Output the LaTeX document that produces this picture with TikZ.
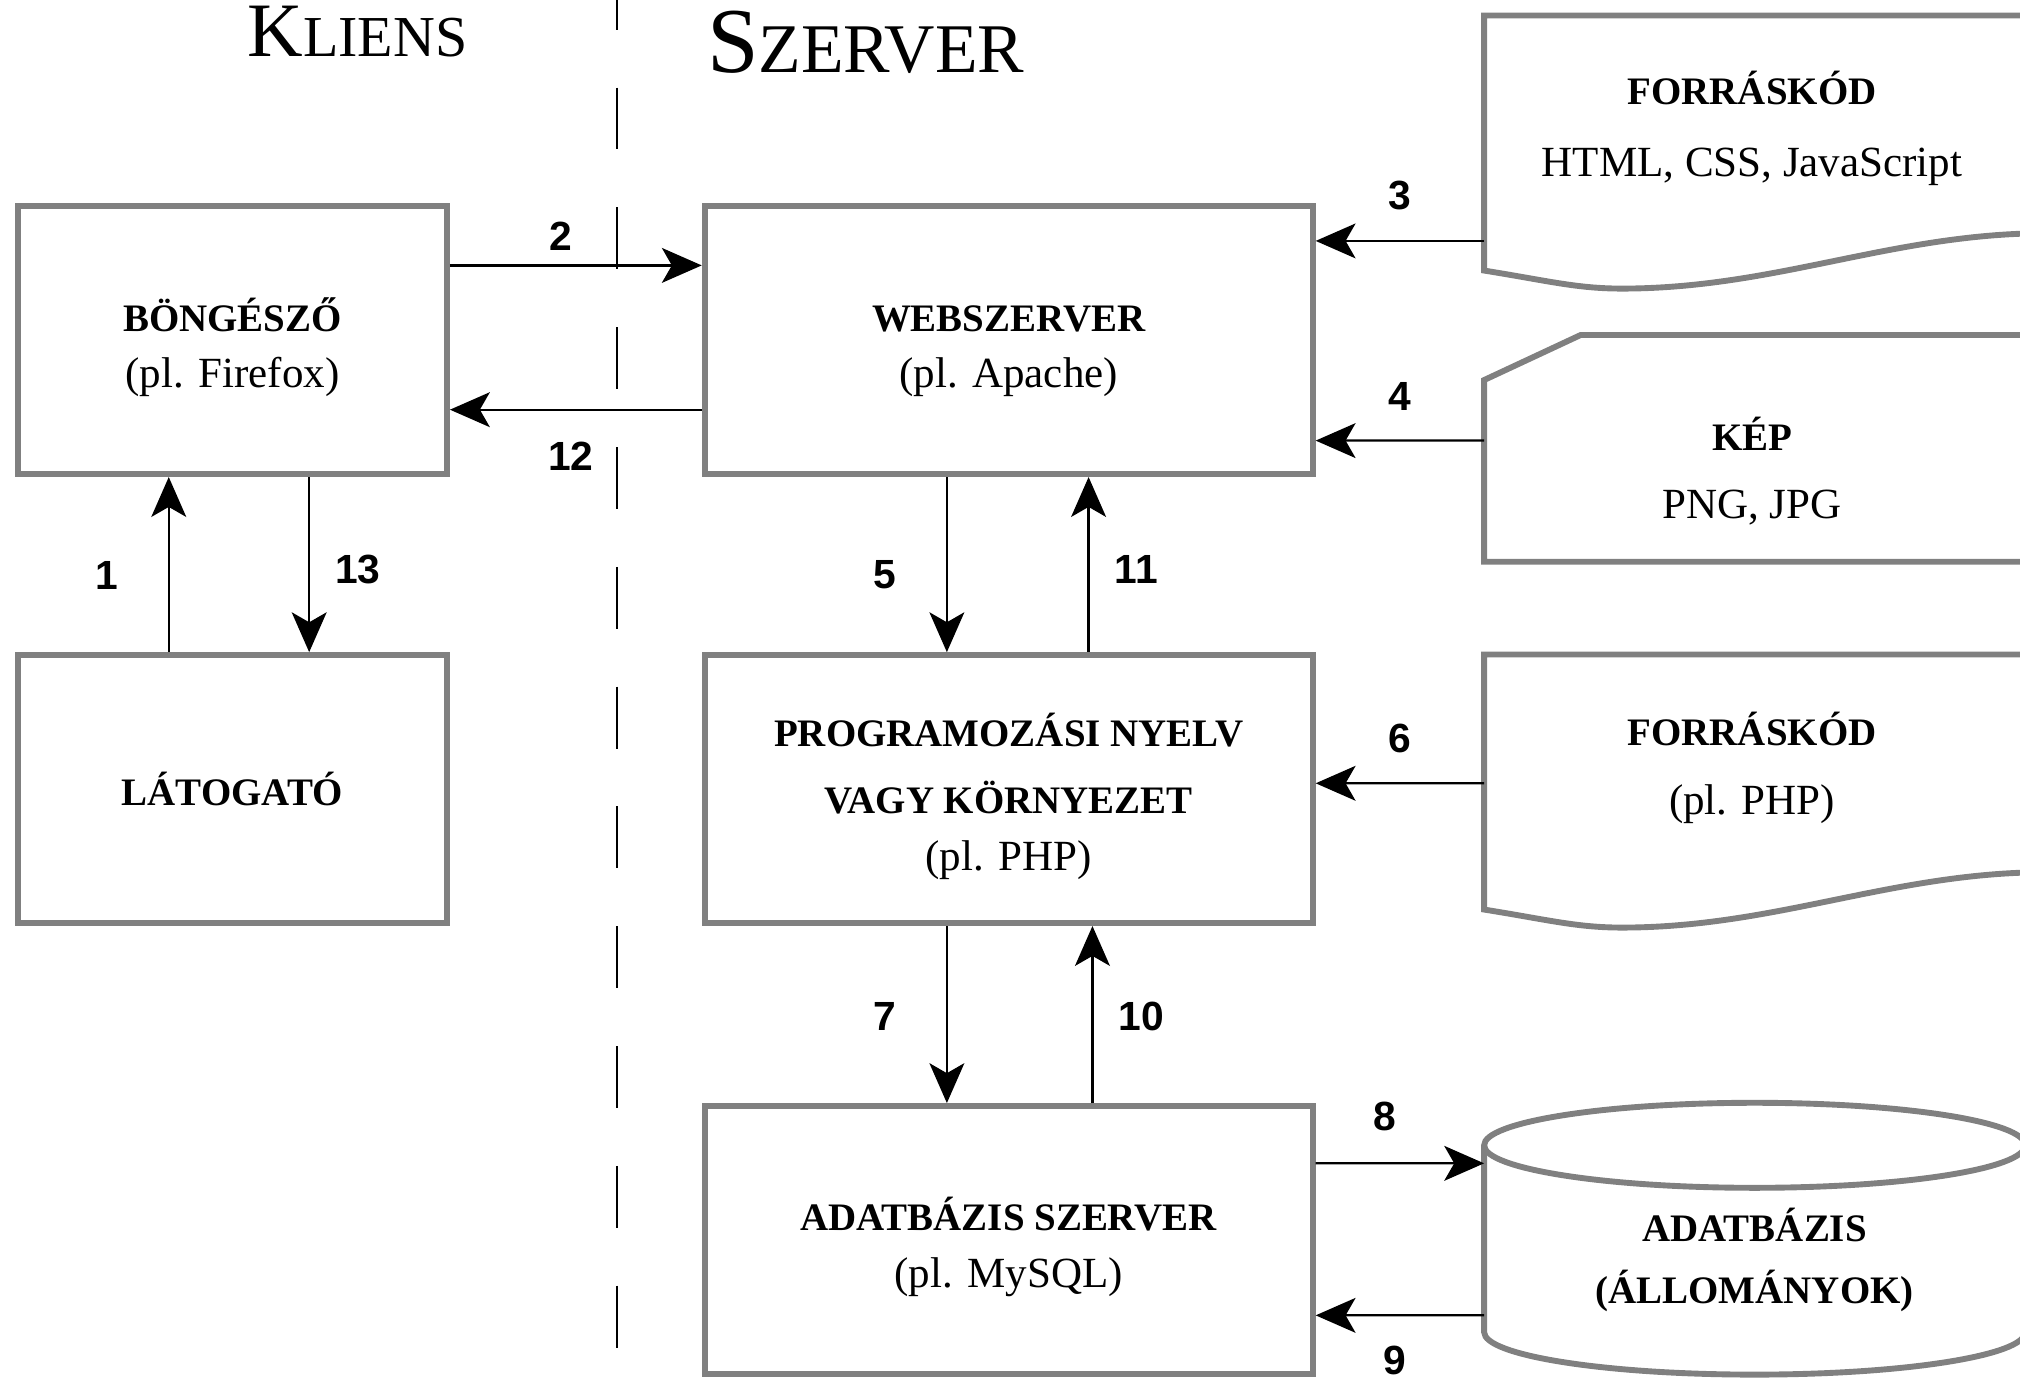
\documentclass[tikz,border=0pt]{standalone}
\usepackage{fontspec}
\setmainfont{Liberation Serif}
\newfontfamily\numfont{Liberation Sans}
\usetikzlibrary{arrows.meta, positioning}

\definecolor{framegray}{RGB}{128,128,128}

\newcommand{\boxtitle}[1]{{\fontsize{8.6}{12.5}\selectfont\bfseries #1}}
\newcommand{\boxtop}{\rule{0pt}{10.5pt}}
\newcommand{\headsc}[3]{#1{\fontsize{#3}{#3}\selectfont #2}}
% document shape with wavy bottom, around an area node
\newcommand{\docframe}[1]{%
  \draw[shapeline] ([xshift=3mm]#1.north east) -- (#1.north west) -- ([yshift=-2.2mm]#1.south west)
    .. controls +(0.5,-0.08) and +(-0.35,0) .. ++(1.07,-0.14)
    .. controls +(1.2,0) and +(-1.2,0) .. ++(3.3,0.43);}

\tikzset{
  box/.style={draw=framegray, line width=1.3pt, minimum width=3.33cm, minimum height=2.08cm,
    align=center, inner sep=0pt, font=\fontsize{9.5}{12.5}\selectfont},
  wide/.style={box, minimum width=4.72cm},
  area/.style={minimum width=4.16cm, inner sep=0pt, outer sep=0pt, align=center,
    font=\fontsize{9.5}{12.5}\selectfont},
  shapeline/.style={draw=framegray, line width=1.3pt},
  arr/.style={-{Stealth[length=8.8pt, width=7.7pt, inset=2.2pt]}, line width=0.5pt},
  num/.style={font=\numfont\bfseries\fontsize{9}{10}\selectfont, inner sep=1pt},
}

\begin{document}
\begin{tikzpicture}[node distance=2cm]
\useasboundingbox (0,0) rectangle (15.68,-10.706);

\node[anchor=base, font=\fontsize{17}{20}\selectfont] (kliens) at (2.775,-0.44) {\headsc{K}{LIENS}{12.8}};
\node[anchor=base, font=\fontsize{20.5}{24}\selectfont] (szerver) at (6.72,-0.56) {\headsc{S}{ZERVER}{15.4}};
\draw[line width=0.45pt, dash pattern=on 0.48cm off 0.45cm] (4.79,0.25) -- (4.79,-10.46);

% kliens oldal
\node[box] (bro) at (1.805,-2.64) {\boxtop\boxtitle{BÖNGÉSZŐ}\\(pl. Firefox)};
\node[box, on grid, below=3.485cm of bro] (lat) {\boxtitle{LÁTOGATÓ}};

% szerver oldal
\node[wide, on grid, right=6.025cm of bro] (web) {\boxtop\boxtitle{WEBSZERVER}\\(pl. Apache)};
\node[wide, on grid, below=3.485cm of web] (prog) {\boxtop\boxtitle{PROGRAMOZÁSI NYELV}\\[2.5pt]\boxtitle{VAGY KÖRNYEZET}\\(pl. PHP)};
\node[wide, on grid, below=3.5cm of prog] (dbs) {\boxtop\boxtitle{ADATBÁZIS SZERVER}\\(pl. MySQL)};

% forrasok
\node[area, minimum height=1.76cm] (code) at (13.6,-1.00) {\boxtitle{FORRÁSKÓD}\\[3.4pt]HTML, CSS, JavaScript};
\docframe{code}
\node[area, minimum height=1.41cm] (kep) at (13.6,-3.655) {\boxtitle{KÉP}\\[2.5pt]PNG, JPG};
\draw[shapeline] ([xshift=3mm]kep.south east) -- (kep.south west) -- (kep.north west)
  -- ++(0.75,0.35) -- ([xshift=3mm,yshift=3.5mm]kep.north east);
\node[area, minimum height=1.76cm] (php) at (13.6,-5.96) {\boxtitle{FORRÁSKÓD}\\[2.8pt](pl. PHP)};
\docframe{php}
\node[area, minimum width=4.2cm, minimum height=1.12cm] (db) at (13.62,-9.78) {\boxtitle{ADATBÁZIS}\\[1pt]\boxtitle{(ÁLLOMÁNYOK)}};
\draw[shapeline] ([yshift=3.3mm]db.north) ellipse [x radius=2.1cm, y radius=0.33cm];
\draw[shapeline] ([yshift=3.3mm]db.north west) -- (db.south west)
  arc [start angle=180, end angle=360, x radius=2.1cm, y radius=0.33cm] -- ([yshift=3.3mm]db.north east);

% lepesek
\draw[arr] ([xshift=-4.95mm]lat.north) -- node[num, left=10pt, pos=0.44] {1} ([xshift=-4.95mm]bro.south);
\draw[arr] ([yshift=5.8mm]bro.east) -- node[num, above=2pt, pos=0.44] {2} ([yshift=5.8mm]web.west);
\draw[arr] ([yshift=-8.7mm]code.west) -- node[num, above=5.5pt] {3} ([yshift=7.7mm]web.east);
\draw[arr] ([yshift=2.35mm]kep.west) -- node[num, above=5.5pt] {4} ([yshift=-7.8mm]web.east);
\draw[arr] ([xshift=-4.8mm]web.south) -- node[num, left=10pt, pos=0.56] {5} ([xshift=-4.8mm]prog.north);
\draw[arr] ([yshift=-1.2mm]php.west) -- node[num, above=5.5pt] {6} ([yshift=0.45mm]prog.east);
\draw[arr] ([xshift=-4.8mm]prog.south) -- node[num, left=10pt, pos=0.51] {7} ([xshift=-4.8mm]dbs.north);
\draw[arr] ([yshift=5.95mm]dbs.east) -- node[num, above=6pt, pos=0.41] {8} ([yshift=7.5mm]db.west);
\draw[arr] ([yshift=-4.3mm]db.west) -- node[num, below=5.5pt, pos=0.53] {9} ([yshift=-5.85mm]dbs.east);
\draw[arr] ([xshift=6.5mm]dbs.north) -- node[num, right=4.5pt, pos=0.49] {10} ([xshift=6.5mm]prog.south);
\draw[arr] ([xshift=6.2mm]prog.north) -- node[num, right=4.5pt, pos=0.47] {11} ([xshift=6.2mm]web.south);
\draw[arr] ([yshift=-5.4mm]web.west) -- node[num, below=6pt, pos=0.52] {12} ([yshift=-5.4mm]bro.east);
\draw[arr] ([xshift=5.95mm]bro.south) -- node[num, right=4.5pt, pos=0.53] {13} ([xshift=5.95mm]lat.north);
\end{tikzpicture}
\end{document}
